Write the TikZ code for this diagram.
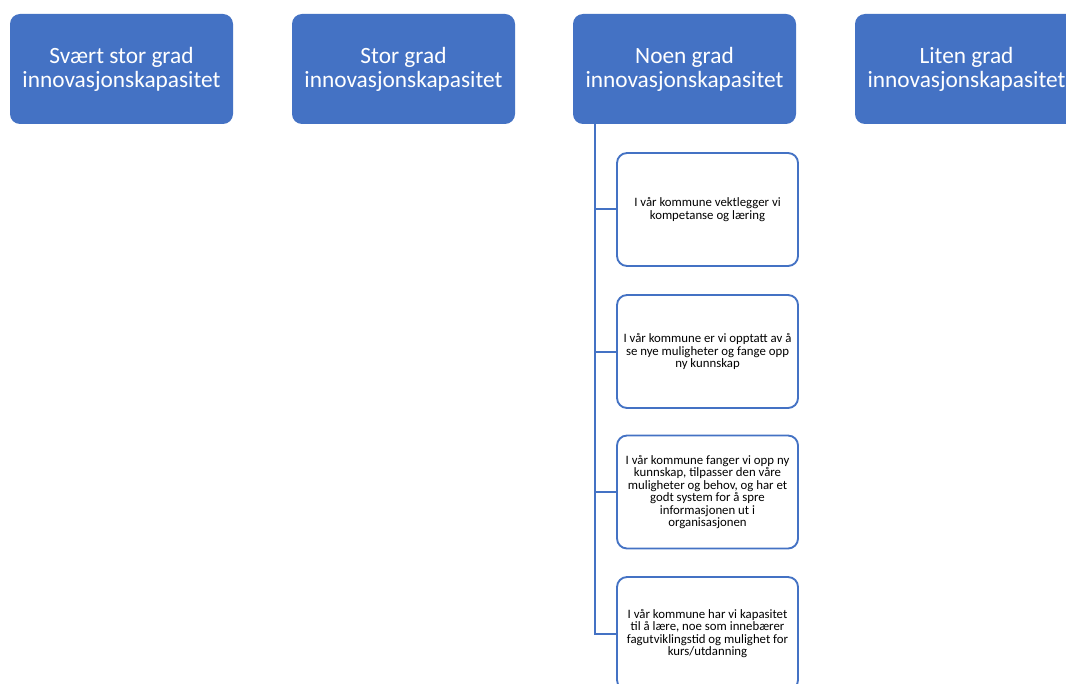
\documentclass[tikz,border=0pt]{standalone}
\usepackage{fontspec}
\setmainfont{Carlito}
\usetikzlibrary{positioning,calc}
\definecolor{ofblue}{HTML}{4472C4}
\tikzset{
  gradbox/.style={rectangle,rounded corners=7.5pt,fill=ofblue,draw=none,
    minimum width=167.25pt,minimum height=82.5pt,text=white,
    font=\fontsize{17.5}{18}\selectfont,align=center,inner sep=2pt},
  utsagn/.style={rectangle,rounded corners=7.5pt,fill=white,draw=ofblue,
    line width=1.4pt,minimum width=135.75pt,minimum height=84.75pt,
    font=\fontsize{9.6}{9.3}\selectfont,align=center,inner sep=2pt},
  gren/.style={draw=ofblue,line width=1.5pt},
}
\begin{document}
\begin{tikzpicture}[x=0.75pt,y=-0.75pt]
  \useasboundingbox (0,0) rectangle (1066,684);
  \clip (0,0) rectangle (1066,684);
  \fill[white] (0,0) rectangle (1066,684);
  % overskrifter
  \node[gradbox] (svaert) at (121.5,69) {Svært stor grad\\innovasjonskapasitet};
  \node[gradbox] (stor) at (403.5,69) {Stor grad\\innovasjonskapasitet};
  \node[gradbox] (noen) at (684.5,69) {Noen grad\\innovasjonskapasitet};
  \node[gradbox] (liten) at (966.5,69) {Liten grad\\innovasjonskapasitet};
  % utsagn under "Noen grad"
  \node[utsagn] (u1) at (707.5,209.5)
    {I vår kommune vektlegger vi\\kompetanse og læring};
  \node[utsagn] (u2) at (707.5,351.5)
    {I vår kommune er vi opptatt av å\\se nye muligheter og fange opp\\ny kunnskap};
  \node[utsagn] (u3) at (707.5,492)
    {I vår kommune fanger vi opp ny\\kunnskap, tilpasser den våre\\muligheter og behov, og har et\\godt system for å spre\\informasjonen ut i\\organisasjonen};
  \node[utsagn] (u4) at (707.5,633.5)
    {I vår kommune har vi kapasitet\\til å lære, noe som innebærer\\fagutviklingstid og mulighet for\\kurs/utdanning};
  \coordinate (stamme) at ($(noen.south west)+(22,0)$);
  \draw[gren] (stamme) |- (u1.west);
  \draw[gren] (stamme) |- (u2.west);
  \draw[gren] (stamme) |- (u3.west);
  \draw[gren] (stamme) |- (u4.west);
\end{tikzpicture}
\end{document}
